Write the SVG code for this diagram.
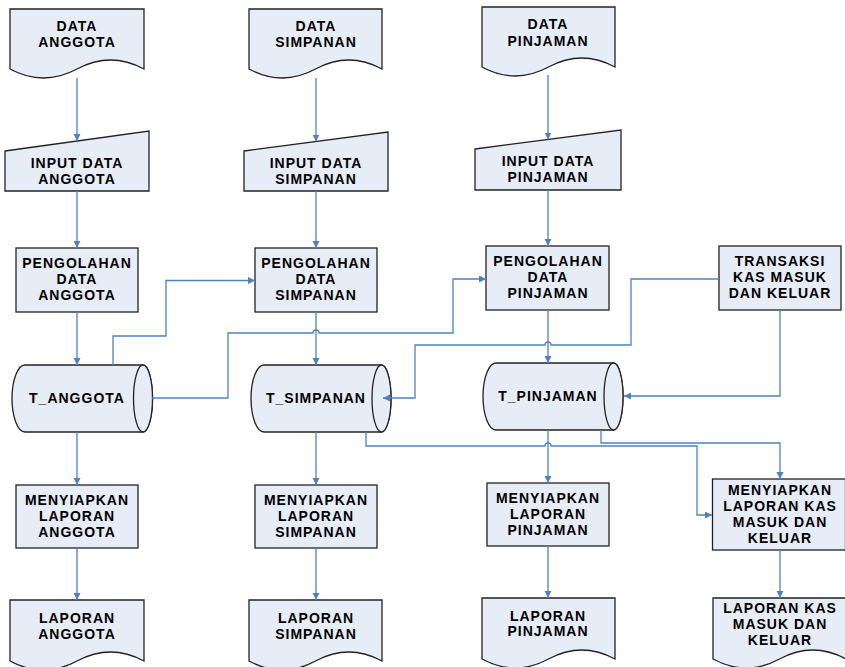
<svg xmlns="http://www.w3.org/2000/svg" width="845" height="667" viewBox="0 0 845 667">
<style>
.s{fill:#E7EDF7;stroke:#222;stroke-width:1.3}
.t{font-family:"Liberation Sans",Arial,sans-serif;font-weight:bold;font-size:14px;letter-spacing:1px;text-anchor:middle;fill:#000}
.c{fill:none;stroke:#4F81BD;stroke-width:1.3}
</style>
<defs>
<marker id="a" markerUnits="userSpaceOnUse" markerWidth="8" markerHeight="8" refX="7" refY="3.5" orient="auto">
<path d="M0,0 L7,3.5 L0,7 z" fill="#4F81BD"/>
</marker>
</defs>
<rect width="845" height="667" fill="#fff"/>
<g id="data-anggota"><path class="s" d="M10,9 H144 V69 Q110.5,51 77,69 T10,69 Z"/><text class="t" x="77" y="30.5">DATA</text><text class="t" x="77" y="46.5">ANGGOTA</text></g>
<g id="data-simpanan"><path class="s" d="M249,9 H382 V69 Q348.75,51 315.5,69 T249,69 Z"/><text class="t" x="316" y="30.5">DATA</text><text class="t" x="316" y="46.5">SIMPANAN</text></g>
<g id="data-pinjaman"><path class="s" d="M482,7 H615 V67 Q581.75,49 548.5,67 T482,67 Z"/><text class="t" x="548" y="29">DATA</text><text class="t" x="548" y="45.5">PINJAMAN</text></g>
<g id="input-anggota"><path class="s" d="M5,151 L149,131 V191 H5 Z"/><text class="t" x="77" y="167.5">INPUT DATA</text><text class="t" x="77" y="183.5">ANGGOTA</text></g>
<g id="input-simpanan"><path class="s" d="M244,151 L388,132 V191 H244 Z"/><text class="t" x="316" y="167.5">INPUT DATA</text><text class="t" x="316" y="183.5">SIMPANAN</text></g>
<g id="input-pinjaman"><path class="s" d="M475,149 L621,130 V190 H475 Z"/><text class="t" x="548" y="165.5">INPUT DATA</text><text class="t" x="548" y="181.5">PINJAMAN</text></g>
<g id="pengolahan-anggota"><rect class="s" x="16" y="248" width="122" height="64"/><text class="t" x="77" y="268">PENGOLAHAN</text><text class="t" x="77" y="284">DATA</text><text class="t" x="77" y="300">ANGGOTA</text></g>
<g id="pengolahan-simpanan"><rect class="s" x="255" y="248" width="122" height="64"/><text class="t" x="316" y="268">PENGOLAHAN</text><text class="t" x="316" y="284">DATA</text><text class="t" x="316" y="300">SIMPANAN</text></g>
<g id="pengolahan-pinjaman"><rect class="s" x="486" y="246" width="123" height="64"/><text class="t" x="548" y="266">PENGOLAHAN</text><text class="t" x="548" y="282">DATA</text><text class="t" x="548" y="298">PINJAMAN</text></g>
<g id="transaksi"><rect class="s" x="719" y="246" width="122" height="64"/><text class="t" x="780" y="266">TRANSAKSI</text><text class="t" x="780" y="282">KAS MASUK</text><text class="t" x="780" y="298">DAN KELUAR</text></g>
<g id="t-anggota"><path class="s" d="M25,365 H143 A9.5,33.5 0 0 1 143,432 H25 A13,33.5 0 0 1 25,365 Z"/><ellipse class="s" cx="143" cy="398.5" rx="9.5" ry="33.5"/><text class="t" x="77" y="403">T_ANGGOTA</text></g>
<g id="t-simpanan"><path class="s" d="M264,365 H381.5 A9.5,33.5 0 0 1 381.5,432 H264 A13,33.5 0 0 1 264,365 Z"/><ellipse class="s" cx="381.5" cy="398.5" rx="9.5" ry="33.5"/><text class="t" x="316" y="403">T_SIMPANAN</text></g>
<g id="t-pinjaman"><path class="s" d="M496,363 H613.5 A9.5,33.5 0 0 1 613.5,430 H496 A13,33.5 0 0 1 496,363 Z"/><ellipse class="s" cx="613.5" cy="396.5" rx="9.5" ry="33.5"/><text class="t" x="548" y="401">T_PINJAMAN</text></g>
<g id="menyiapkan-anggota"><rect class="s" x="16" y="485" width="122" height="63"/><text class="t" x="77" y="505">MENYIAPKAN</text><text class="t" x="77" y="521">LAPORAN</text><text class="t" x="77" y="537">ANGGOTA</text></g>
<g id="menyiapkan-simpanan"><rect class="s" x="255" y="485" width="122" height="63"/><text class="t" x="316" y="505">MENYIAPKAN</text><text class="t" x="316" y="521">LAPORAN</text><text class="t" x="316" y="537">SIMPANAN</text></g>
<g id="menyiapkan-pinjaman"><rect class="s" x="487" y="483" width="122" height="63"/><text class="t" x="548" y="503">MENYIAPKAN</text><text class="t" x="548" y="519">LAPORAN</text><text class="t" x="548" y="535">PINJAMAN</text></g>
<g id="menyiapkan-kas"><rect class="s" x="712.5" y="479" width="133" height="71"/><text class="t" x="780" y="495">MENYIAPKAN</text><text class="t" x="780" y="511">LAPORAN KAS</text><text class="t" x="780" y="527">MASUK DAN</text><text class="t" x="780" y="543">KELUAR</text></g>
<g id="laporan-anggota"><path class="s" d="M10,600 H144 V661 Q110.5,643 77,661 T10,661 Z"/><text class="t" x="77" y="622.5">LAPORAN</text><text class="t" x="77" y="638.5">ANGGOTA</text></g>
<g id="laporan-simpanan"><path class="s" d="M249,600 H382 V661 Q348.75,643 315.5,661 T249,661 Z"/><text class="t" x="316" y="622.5">LAPORAN</text><text class="t" x="316" y="638.5">SIMPANAN</text></g>
<g id="laporan-pinjaman"><path class="s" d="M482,598 H615 V659 Q581.75,641 548.5,659 T482,659 Z"/><text class="t" x="548" y="620.5">LAPORAN</text><text class="t" x="548" y="636">PINJAMAN</text></g>
<g id="laporan-kas"><path class="s" d="M713,598 H846 V659 Q812.75,641 779.5,659 T713,659 Z"/><text class="t" x="780" y="612.5">LAPORAN KAS</text><text class="t" x="780" y="628.5">MASUK DAN</text><text class="t" x="780" y="644.5">KELUAR</text></g>
<g id="connectors" class="c" marker-end="url(#a)">
<path d="M77,78 V141"/><path d="M77,191 V248"/><path d="M77,312 V365"/><path d="M77,432 V485"/><path d="M77,548 V600"/>
<path d="M316,78 V141.5"/><path d="M316,191 V248"/><path d="M316,312 V365"/><path d="M316,432 V485"/><path d="M316,548 V600"/>
<path d="M548,75 V139.5"/><path d="M548,190 V246"/><path d="M548,310 V363"/><path d="M548,430 V483"/><path d="M548,546 V598"/>
<path d="M780,550 V598"/>
<path d="M113,365 V336 H166 V280.5 H255"/>
<path d="M152,398 H228 V333 H313 A3,3 0 0 1 319,333 H453 V279 H486"/>
<path d="M719,279 H631 V345 H551 A3,3 0 0 0 545,345 H415 V398 H383"/>
<path d="M780,310 V396 H624"/>
<path d="M366,432 V446 H545 A3,3 0 0 1 551,446 H697 V515 H712"/>
<path d="M601,430 V443 H780 V479"/>
</g>
</svg>
